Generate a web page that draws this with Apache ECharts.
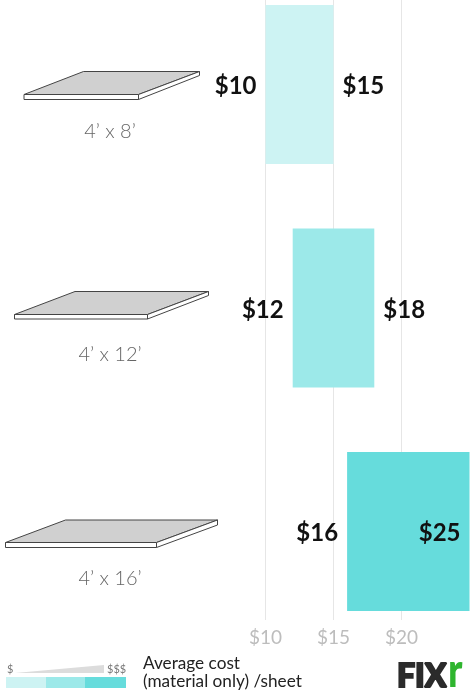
<!DOCTYPE html>
<html>
<head>
<meta charset="utf-8">
<style>
  html, body { margin: 0; padding: 0; background: #fff; }
  #main { width: 474px; height: 694px; }
</style>
<script src="https://cdn.jsdelivr.net/npm/echarts@6/dist/echarts.min.js"></script>
</head>
<body>
<div id="main"></div>
<script>
var sizes = ['4’ x 8’', '4’ x 12’', '4’ x 16’'];
var lowCost = [10, 12, 16];
var highCost = [15, 18, 25];
var tickValues = [10, 15, 20];
var barColors = ['#cdf3f3', '#9ce9e9', '#66dcdc'];

var font = 'Lato, "Open Sans", sans-serif';

// sheet of material, drawn as a small illustration beside each row
function sheet(left, frontRight, topLeft, topRight, top, front, bottom, sideBottom) {
	return [
		{
			type: 'polygon',
			shape: { points: [[left, front], [frontRight, front], [topRight, top], [topLeft, top]] },
			style: { fill: '#d0d0d0', stroke: '#444', lineWidth: 1 }
		},
		{
			type: 'polygon',
			shape: { points: [[left, front], [frontRight, front], [frontRight, bottom], [left, bottom]] },
			style: { fill: '#fff', stroke: '#444', lineWidth: 1 }
		},
		{
			type: 'polygon',
			shape: { points: [[frontRight, front], [topRight, top], [topRight, sideBottom], [frontRight, bottom]] },
			style: { fill: '#fff', stroke: '#444', lineWidth: 1 }
		}
	];
}

var graphics = []
	.concat(sheet(24, 138.5, 83.5, 199.5, 71.5, 94.5, 99.5, 75.5))
	.concat(sheet(14.5, 147.5, 75, 208.5, 291.5, 314.5, 319, 295.5))
	.concat(sheet(5.5, 156.5, 65.5, 217.5, 520, 542.5, 547.5, 525))
	.concat([
		{ type: 'polygon', shape: { points: [[15, 673], [104, 665], [104, 673]] }, style: { fill: '#dcdcdc' } },
		{ type: 'text', x: 7, y: 664, style: { text: '$', font: '11px ' + font, fill: '#777' } },
		{ type: 'text', x: 107, y: 664, style: { text: '$$$', font: '11px ' + font, fill: '#777' } },
		{ type: 'rect', shape: { x: 6, y: 677, width: 40, height: 11 }, style: { fill: barColors[0] } },
		{ type: 'rect', shape: { x: 46, y: 677, width: 39, height: 11 }, style: { fill: barColors[1] } },
		{ type: 'rect', shape: { x: 85, y: 677, width: 41, height: 11 }, style: { fill: barColors[2] } },
		{ type: 'text', x: 143, y: 655, style: { text: 'Average cost', font: '17.2px ' + font, fill: '#222' } },
		{ type: 'text', x: 143, y: 673, style: { text: '(material only) /sheet', font: '17.2px ' + font, fill: '#222' } },
		{ type: 'text', x: 397, y: 661, style: { text: 'FIX', font: '900 32px ' + font, fill: '#2b2b2b', stroke: '#2b2b2b', lineWidth: 2 } },
		{ type: 'text', x: 448, y: 648, scaleX: 0.8, style: { text: 'r', font: '900 48px ' + font, fill: '#2fb52f' } }
	]);

var myChart = echarts.init(document.getElementById('main'));
myChart.setOption({
	animation: false,
	textStyle: { fontFamily: font },
	grid: [
		{ left: 265.5, width: 204, top: -27.25, height: 670.5, outerBoundsMode: 'none' },
		{ left: 265.5, width: 204, top: 0, height: 620, outerBoundsMode: 'none' }
	],
	xAxis: [
		{ gridIndex: 0, type: 'value', min: 10, max: 25, show: false },
		{
			gridIndex: 1,
			type: 'value',
			min: 10,
			max: 25,
			axisLine: { show: false },
			axisTick: { show: false, customValues: tickValues },
			axisLabel: {
				customValues: tickValues,
				formatter: function (v) { return '$' + v; },
				color: '#bdbdbd',
				fontSize: 19,
				margin: 8
			},
			splitLine: { show: true, lineStyle: { color: '#e6e6e6', width: 1 } }
		}
	],
	yAxis: [
		{
			gridIndex: 0,
			type: 'category',
			inverse: true,
			data: sizes,
			axisLine: { show: false },
			axisTick: { show: false },
			axisLabel: {
				color: '#666',
				fontSize: 20,
				fontWeight: 300,
				align: 'center',
				verticalAlign: 'top',
				lineHeight: 94,
				margin: 155.5
			}
		},
		{ gridIndex: 1, type: 'value', show: false }
	],
	series: [
		{
			type: 'bar',
			stack: 'cost',
			clip: false,
			barWidth: 159,
			itemStyle: { color: 'transparent' },
			data: lowCost,
			label: {
				show: true,
				position: 'insideRight',
				distance: 9,
				offset: [0, 2],
				fontSize: 24,
				fontWeight: 700,
				color: '#111',
				formatter: function (p) { return '$' + lowCost[p.dataIndex]; }
			}
		},
		{
			type: 'bar',
			stack: 'cost',
			barWidth: 159,
			data: highCost.map(function (h, i) {
				return {
					value: h - lowCost[i],
					itemStyle: { color: barColors[i] },
					label: { position: i === 2 ? 'insideRight' : 'right' }
				};
			}),
			label: {
				show: true,
				distance: 9,
				offset: [0, 2],
				fontSize: 24,
				fontWeight: 700,
				color: '#111',
				formatter: function (p) { return '$' + highCost[p.dataIndex]; }
			}
		}
	],
	graphic: { elements: graphics }
});
</script>
</body>
</html>
